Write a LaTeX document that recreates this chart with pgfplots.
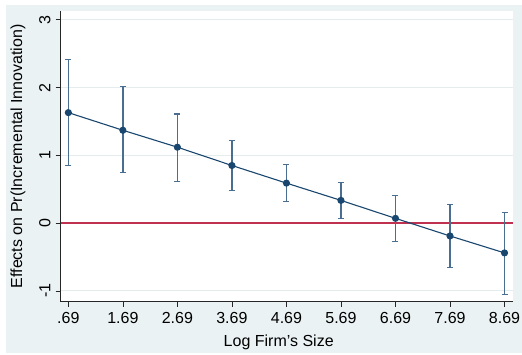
\documentclass[border=0pt]{standalone}
\usepackage{pgfplots}
\pgfplotsset{compat=1.18}
\usepackage{fontspec}
\setmainfont{Liberation Sans}
\definecolor{bgcol}{HTML}{EAF2F3}
\definecolor{gridcol}{HTML}{E4ECEE}
\definecolor{navy}{HTML}{1A476F}
\definecolor{barcol}{HTML}{4A6E90}
\definecolor{zerocol}{HTML}{C0304F}
\pgfplotstableread{
x y ep em
0.69 1.63 0.79 0.78
1.69 1.37 0.64 0.63
2.69 1.12 0.49 0.50
3.69 0.85 0.37 0.37
4.69 0.59 0.28 0.27
5.69 0.335 0.265 0.265
6.69 0.07 0.34 0.34
7.69 -0.19 0.47 0.46
8.69 -0.44 0.59 0.61
}\datatable
\pgfplotstableread{
x y
0.55 0
8.84 0
}\zerotable
\begin{document}
\begin{tikzpicture}
\fill[white] (0pt,0pt) rectangle (522pt,355pt);
\fill[bgcol] (6pt,2pt) rectangle (522pt,350pt);
\useasboundingbox (0pt,0pt) rectangle (522pt,355pt);
\begin{axis}[
  at={(60.7pt,53.3pt)}, anchor=south west,
  scale only axis, width=452pt, height=290.7pt,
  xmin=0.55, xmax=8.84, ymin=-1.16, ymax=3.13,
  axis background/.style={fill=white},
  axis x line*=bottom, axis y line*=left,
  axis line style={black!85, line width=0.8pt},
  tick align=outside, major tick length=5pt,
  tick style={black!85, line width=0.6pt},
  xtick={0.69,1.69,2.69,3.69,4.69,5.69,6.69,7.69,8.69},
  xticklabels={.69,1.69,2.69,3.69,4.69,5.69,6.69,7.69,8.69},
  ytick={-1,0,1,2,3},
  ymajorgrids, grid style={gridcol, line width=1pt},
  /pgf/number format/assume math mode=true,
  tick label style={font=\fontsize{16}{19}\selectfont},
  yticklabel style={xshift=-4pt, rotate=90, anchor=south, inner sep=1pt},
  xticklabel style={anchor=north, inner sep=1pt, yshift=-4pt},
  xlabel={Log Firm's Size},
  ylabel={Effects on Pr(Incremental Innovation)},
  every axis x label/.style={at={(rel axis cs:0.5,0)}, anchor=center, xshift=-8pt, yshift=-40.3pt, font=\fontsize{16}{19}\selectfont},
  every axis y label/.style={at={(rel axis cs:0,0.5)}, anchor=center, xshift=-42.7pt, rotate=90, font=\fontsize{16}{19}\selectfont},
  clip=false,
]
\addplot[draw=zerocol, line width=1.3pt, mark=none, forget plot] table[x=x, y=y] {\zerotable};
\addplot[only marks, mark=none, forget plot,
  error bars/.cd, y dir=both, y explicit,
  error bar style={barcol, line width=1.3pt},
  error mark options={rotate=90, mark size=3pt, barcol, line width=1.1pt}]
  table[x=x, y=y, y error plus=ep, y error minus=em] {\datatable};
\addplot[navy, line width=1.1pt, mark=*, mark size=3pt, mark options={fill=navy, draw=navy}]
  table[x=x, y=y] {\datatable};
\end{axis}
\end{tikzpicture}
\end{document}
